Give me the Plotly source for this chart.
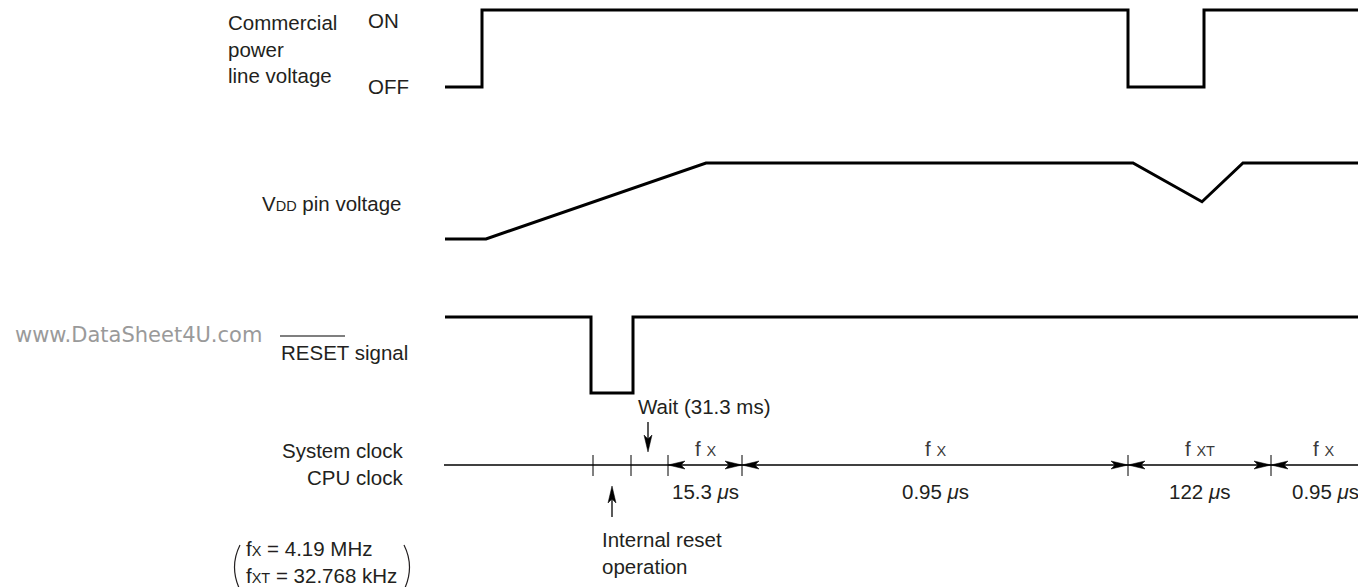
import plotly.graph_objects as go

# page has an 8px body margin: draw in reference-pixel coordinates with that offset
OFF = 8
W, H = 1366 - OFF, 587 - OFF

# ---------------- data (time in diagram units, levels 0..1) ----------------
power_t = [445, 482, 1128, 1204, 1360]
power_level = [0, 1, 0, 1, 1]            # 0 = OFF, 1 = ON

vdd_t = [445, 486, 706, 1133, 1202, 1243, 1360]
vdd_level = [0, 0, 1, 1, 0.49, 1, 1]

reset_t = [445, 591, 633, 1360]
reset_level = [1, 0, 1, 1]

clock_span = [444, 1360]
reset_ticks = [593, 631, 668]
clock_bounds = [668, 742, 1128, 1271, 1360]
clock_source = ["X", "X", "XT", "X"]
cpu_period_us = ["15.3", "0.95", "122", "0.95"]

# ---------------- layout geometry (reference pixels) ----------------
ROWS = {"power": (87, 10), "vdd": (239, 163), "reset": (393, 317)}  # (level0 px, level1 px)
CLOCK_Y = 465
PAD_PX = 2.0
FONT = "Liberation Sans, Arial, Helvetica, sans-serif"
INK = "#231f20"
FS = 20.5
SS = 14.5

fig = go.Figure()

def row_axis(name):
    p0, p1 = ROWS[name]
    amp = p0 - p1
    pad = PAD_PX / amp
    bottom = p0 + PAD_PX - OFF
    top = p1 - PAD_PX - OFF
    return dict(domain=[1 - bottom / H, min(1.0, 1 - top / H)], range=[-pad, 1 + pad],
                visible=False, fixedrange=True, anchor="x")

# waveforms
fig.add_trace(go.Scatter(x=power_t, y=power_level, mode="lines", yaxis="y2",
                         line=dict(color="black", width=3, shape="hv")))
fig.add_trace(go.Scatter(x=vdd_t, y=vdd_level, mode="lines", yaxis="y3",
                         line=dict(color="black", width=3, shape="linear")))
fig.add_trace(go.Scatter(x=reset_t, y=reset_level, mode="lines", yaxis="y4",
                         line=dict(color="black", width=3, shape="hv")))

# clock line
fig.add_trace(go.Scatter(x=clock_span, y=[CLOCK_Y, CLOCK_Y], mode="lines", yaxis="y",
                         line=dict(color="black", width=1.6)))
# ticks
tick_x = sorted(set(reset_ticks + clock_bounds[:-1]))
tx, ty = [], []
for t in tick_x:
    tx += [t, t, None]
    ty += [CLOCK_Y - 10, CLOCK_Y + 11, None]
fig.add_trace(go.Scatter(x=tx, y=ty, mode="lines", yaxis="y",
                         line=dict(color="black", width=1)))

shapes = []

def head(x, y, d, L=17, hw=4, notch=4):
    if d == "r":
        p = f"M {x},{y} L {x-L},{y-hw} L {x-L+notch},{y} L {x-L},{y+hw} Z"
    elif d == "l":
        p = f"M {x},{y} L {x+L},{y-hw} L {x+L-notch},{y} L {x+L},{y+hw} Z"
    elif d == "d":
        p = f"M {x},{y} L {x-hw},{y-L} L {x},{y-L+notch} L {x+hw},{y-L} Z"
    else:
        p = f"M {x},{y} L {x-hw},{y+L} L {x},{y+L-notch} L {x+hw},{y+L} Z"
    shapes.append(dict(type="path", path=p, xref="x", yref="y",
                       fillcolor="black", line=dict(color="black", width=0.5)))

for i in range(len(clock_bounds) - 1):
    a, b = clock_bounds[i], clock_bounds[i + 1]
    head(a, CLOCK_Y, "l")
    if i < len(clock_bounds) - 2:
        head(b, CLOCK_Y, "r")

# Wait arrow / internal reset arrow
shapes.append(dict(type="line", x0=648, x1=648, y0=422, y1=442, xref="x", yref="y",
                   line=dict(color="black", width=1.3)))
head(648, 452, "d")
shapes.append(dict(type="line", x0=612, x1=612, y0=496, y1=517, xref="x", yref="y",
                   line=dict(color="black", width=1.3)))
head(612, 486, "u")

# RESET overline
shapes.append(dict(type="line", x0=280, x1=345, y0=336, y1=336, xref="x", yref="y",
                   line=dict(color="#555", width=1.3)))
# parentheses
shapes.append(dict(type="path", path="M 240,545 Q 229,567 240,590", xref="x", yref="y",
                   line=dict(color=INK, width=1.2)))
shapes.append(dict(type="path", path="M 404,545 Q 415,567 404,590", xref="x", yref="y",
                   line=dict(color=INK, width=1.2)))

ann = []

def text(x, y, s, xanchor="left", size=FS, color=INK, align="left", family=FONT):
    ann.append(dict(x=x, y=y, xref="x", yref="y", text=s, showarrow=False,
                    xanchor=xanchor, yanchor="middle", align=align,
                    font=dict(family=family, size=size, color=color)))

small = lambda s: f"<span style='font-size:{SS}px'>{s}</span>"

text(226, 49, "Commercial<br>power<br>line voltage")
text(366, 20, "ON")
text(366, 86, "OFF")
text(404, 203, "V" + small("DD") + " pin voltage", xanchor="right")
text(13, 335, "www.DataSheet4U.com", size=21, color="#9a9a9a",
     family="DejaVu Sans, Verdana, sans-serif")
text(279, 352, "RESET signal")
text(405, 464, "System clock<br>CPU clock", xanchor="right", align="right")
text(636, 406, "Wait (31.3 ms)")
text(600, 553, "Internal reset<br>operation")
text(244, 562, "f" + small("X") + " = 4.19 MHz<br>f" + small("XT") + " = 32.768 kHz")

for i in range(len(clock_bounds) - 1):
    a, b = clock_bounds[i], clock_bounds[i + 1]
    last = i == len(clock_bounds) - 2
    cx = (a + b) / 2 + (8 if last else 0)
    text(cx, 448, "f " + small(clock_source[i]), xanchor="center", color="#3a3a3a")
    lab = f"{cpu_period_us[i]} <i>μ</i>s"
    if last:
        text(1361, 491, lab, xanchor="right")
    else:
        text(cx, 491, lab, xanchor="center")

fig.update_layout(
    width=W, height=H,
    margin=dict(l=0, r=0, t=0, b=0),
    paper_bgcolor="white", plot_bgcolor="rgba(0,0,0,0)",
    showlegend=False, hovermode=False,
    xaxis=dict(range=[OFF, OFF + W], visible=False, fixedrange=True, domain=[0, 1]),
    yaxis=dict(range=[OFF + H, OFF], visible=False, fixedrange=True, domain=[0, 1]),
    yaxis2=row_axis("power"),
    yaxis3=row_axis("vdd"),
    yaxis4=row_axis("reset"),
    shapes=shapes,
    annotations=ann,
)

fig.write_html("out.html", config={"displayModeBar": False, "staticPlot": True})
